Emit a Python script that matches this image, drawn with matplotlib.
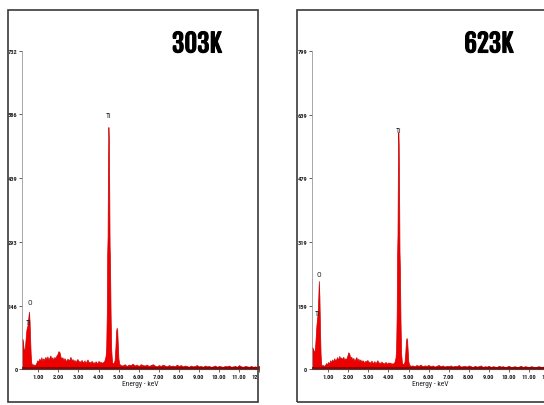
import numpy as np
import matplotlib
matplotlib.use('Agg')
import matplotlib.pyplot as plt
import matplotlib.patheffects as pe
from matplotlib.patches import Rectangle
from matplotlib.transforms import Bbox

## -- DATA --
# energy (keV) / counts
energy_low = [0.20, 0.23, 0.26, 0.29, 0.32, 0.35, 0.38, 0.41, 0.44, 0.47, 0.50, 0.53, 0.56, 0.59,
              0.62, 0.65, 0.70, 0.75, 0.80, 0.85, 0.90, 0.95]
counts_303_low = [70, 62, 50, 42, 45, 60, 78, 92, 96, 104, 118, 132, 112, 70,
                  32, 14, 9, 11, 8, 10, 14, 20]
counts_623_low = [55, 52, 48, 42, 45, 60, 85, 110, 125, 140, 175, 221, 180, 95,
                  35, 12, 8, 10, 7, 11, 15, 12]

energy_mid = [1.00, 1.05, 1.10, 1.15, 1.20, 1.25, 1.30, 1.35, 1.40, 1.45, 1.50, 1.55, 1.60, 1.65,
              1.70, 1.75, 1.80, 1.85, 1.90, 1.95, 2.00, 2.05, 2.10, 2.15, 2.20, 2.25, 2.30, 2.35,
              2.40, 2.45, 2.50, 2.55, 2.60, 2.65, 2.70, 2.75, 2.80, 2.85, 2.90, 2.95, 3.00, 3.05,
              3.10, 3.15, 3.20, 3.25, 3.30, 3.35, 3.40, 3.45, 3.50, 3.55, 3.60, 3.65, 3.70, 3.75,
              3.80, 3.85, 3.90, 3.95, 4.00, 4.05, 4.10, 4.15, 4.20, 4.25, 4.30]
counts_303_mid = [17, 24, 19, 27, 18, 25, 20, 28, 22, 29, 21, 26, 31, 23,
                  27, 20, 28, 24, 31, 34, 41, 39, 29, 23, 27, 19, 25, 21,
                  18, 24, 20, 22, 28, 19, 23, 17, 21, 15, 20, 23, 16, 19,
                  14, 21, 17, 15, 20, 13, 18, 22, 15, 17, 13, 19, 14, 16,
                  12, 18, 15, 13, 19, 14, 17, 13, 16, 15, 21]
counts_623_mid = [18, 13, 22, 17, 24, 19, 27, 21, 25, 30, 22, 33, 26, 29,
                  24, 31, 22, 27, 25, 33, 42, 38, 27, 31, 22, 28, 20, 25,
                  30, 21, 26, 19, 24, 17, 22, 20, 15, 21, 18, 23, 16, 19,
                  14, 21, 17, 15, 20, 13, 18, 22, 15, 17, 13, 19, 14, 16,
                  12, 18, 15, 13, 17, 14, 16, 12, 15, 13, 18]

energy_peak = [4.35, 4.38, 4.41, 4.43, 4.45, 4.47, 4.49, 4.51, 4.53, 4.55, 4.57, 4.60, 4.63, 4.67,
               4.72, 4.76, 4.80, 4.84, 4.87, 4.90, 4.93, 4.96, 4.99, 5.03, 5.10]
counts_303_peak = [30, 48, 130, 265, 305, 480, 557, 530, 425, 285, 245, 125, 45, 16,
                   12, 15, 20, 50, 85, 95, 88, 55, 24, 12, 9]
counts_623_peak = [28, 48, 140, 285, 335, 510, 595, 565, 445, 295, 250, 120, 40, 15,
                   11, 14, 18, 42, 70, 78, 72, 44, 19, 11, 8]

energy_high = [5.2, 5.3, 5.4, 5.5, 5.6, 5.7, 5.8, 5.9, 6.0, 6.1, 6.2, 6.3, 6.4, 6.5, 6.6, 6.7,
               6.8, 6.9, 7.0, 7.1, 7.2, 7.3, 7.4, 7.5, 7.6, 7.7, 7.8, 7.9, 8.0, 8.1, 8.2, 8.3,
               8.4, 8.5, 8.6, 8.7, 8.8, 8.9, 9.0, 9.1, 9.2, 9.3, 9.4, 9.5, 9.6, 9.7, 9.8, 9.9,
               10.0, 10.1, 10.2, 10.3, 10.4, 10.5, 10.6, 10.7, 10.8, 10.9, 11.0, 11.1, 11.2,
               11.3, 11.4, 11.5, 11.6, 11.7, 11.8, 11.9, 12.0, 12.1, 12.2, 12.3, 12.4, 12.5]
counts_303_high = [8, 11, 7, 10, 9, 12, 8, 10, 7, 11, 9, 8, 10, 7, 9, 11,
                   8, 6, 9, 7, 10, 8, 6, 9, 7, 8, 6, 10, 7, 9, 6, 8,
                   7, 5, 8, 6, 7, 9, 6, 7, 5, 8, 6, 7, 5, 6, 8, 5,
                   7, 6, 5, 7, 6, 8, 5, 6, 7, 5, 9, 6, 5, 7, 6, 5,
                   7, 5, 6, 5, 7, 6, 5, 6, 5, 6]
counts_623_high = [9, 7, 10, 8, 11, 7, 9, 8, 10, 7, 9, 6, 8, 10, 7, 9,
                   6, 8, 7, 9, 6, 8, 7, 10, 6, 7, 8, 6, 9, 7, 5, 8,
                   6, 7, 9, 5, 7, 6, 8, 5, 7, 6, 5, 8, 6, 7, 5, 6,
                   8, 5, 6, 7, 5, 6, 8, 5, 7, 6, 5, 7, 6, 5, 6, 7,
                   5, 6, 5, 7, 5, 6, 5, 6, 5, 6]

x_ticks = [1, 2, 3, 4, 5, 6, 7, 8, 9, 10, 11, 12]
x_tick_labels = ['1.00', '2.00', '3.00', '4.00', '5.00', '6.00', '7.00', '8.00', '9.00',
                 '10.00', '11.00', '12.00']
y_ticks_303 = [0, 146, 293, 439, 586, 732]
y_ticks_623 = [0, 159, 319, 479, 639, 799]

panel_titles = ['303K', '623K']
# peak labels (element, energy, counts)
peaks_303 = [('Ti', 4.49, 585), ('O', 0.57, 154), ('Ti', 0.52, 108)]
peaks_623 = [('Ti', 4.51, 600), ('O', 0.52, 239), ('Ti', 0.49, 141)]

narrow = ['Roboto Condensed', 'PT Sans Narrow', 'DejaVu Sans']
title_font = ['Fjalla One', 'Roboto Condensed', 'DejaVu Sans']

W, H = 544, 406
fig = plt.figure(figsize=(W / 100, H / 100), dpi=100)

def px(x0, y0, w, h):
    # pixel box (top-left origin) -> figure fraction
    return [x0 / W, 1 - (y0 + h) / H, w / W, h / H]

energy = energy_low + energy_mid + energy_peak + energy_high
spectra = [counts_303_low + counts_303_mid + counts_303_peak + counts_303_high,
           counts_623_low + counts_623_mid + counts_623_peak + counts_623_high]
y_ticks_all = [y_ticks_303, y_ticks_623]
peaks_all = [peaks_303, peaks_623]

frame_left = [8, 297]
frame_width = [250, 260]
axes_left = [22.3, 312.2]
title_x = [197, 489]
keV_px = 20.07

for i in range(2):
    # outer frame of each panel
    fr = Rectangle((frame_left[i] / W, 1 - 403 / H), frame_width[i] / W, 392 / H,
                   transform=fig.transFigure, fill=False, edgecolor='#3a3a3a', linewidth=1.2)
    fig.patches.append(fr)

    ax = fig.add_axes(px(axes_left[i], 52, 11.8 * keV_px, 318))
    ax.fill_between(energy, spectra[i], 0, color='#ee0000', linewidth=0.5, edgecolor='#cc0000')
    ax.axhline(2, color='#8a0000', linewidth=1.2, zorder=3)
    ax.set_xlim(0.2, 12.0)
    ax.set_ylim(0, y_ticks_all[i][-1])
    ax.set_xticks(x_ticks)
    ax.set_xticklabels(x_tick_labels)
    ax.set_yticks(y_ticks_all[i])
    ax.set_yticklabels([str(v) for v in y_ticks_all[i]])
    ax.tick_params(axis='both', length=2, width=0.5, pad=1.5, labelsize=4.6, colors='#222222')
    for lbl in ax.get_xticklabels() + ax.get_yticklabels():
        lbl.set_family(narrow)
        lbl.set_fontweight('bold')
    ax.spines['top'].set_visible(False)
    ax.spines['right'].set_visible(False)
    ax.spines['left'].set_color('#9a9a9a')
    ax.spines['left'].set_linewidth(0.6)
    ax.spines['bottom'].set_color('#444444')
    ax.spines['bottom'].set_linewidth(0.8)
    ax.set_xlabel('Energy - keV', fontsize=5.4, family=narrow, labelpad=1, color='#222222')
    ax.patch.set_alpha(0)

    # clip the x axis to the panel frame
    clip = Bbox.from_extents(frame_left[i], 0, frame_left[i] + frame_width[i] - 0.5, H)
    for lbl in ax.get_xticklabels():
        lbl.set_clip_box(clip)
        lbl.set_clip_on(True)
    ax.spines['bottom'].set_clip_box(clip)
    ax.spines['bottom'].set_clip_on(True)

    for name, e, c in peaks_all[i]:
        ax.text(e, c, name, fontsize=5.5, family=narrow, ha='center', va='center', color='#222222')

    fig.text(title_x[i] / W, 1 - 45 / H, panel_titles[i], fontsize=18, fontweight='bold',
             family=title_font, ha='center', va='center', color='black',
             path_effects=[pe.withStroke(linewidth=0.8, foreground='black')])

plt.savefig('out.png', dpi=100)
